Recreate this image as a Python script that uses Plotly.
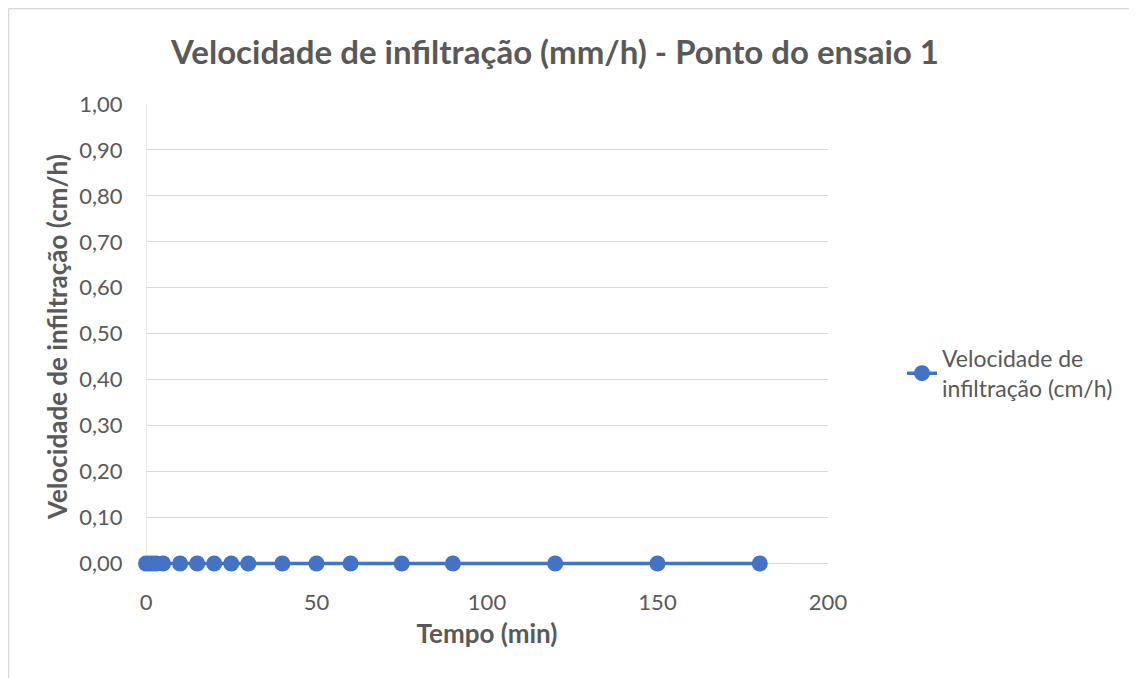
import plotly.graph_objects as go

tempo_min = [0, 1, 2, 3, 5, 10, 15, 20, 25, 30, 40, 50, 60, 75, 90, 120, 150, 180]
velocidade_cm_h = [0.0] * 18
series_name = "Velocidade de<br>infiltração (cm/h)"
title_text = "Velocidade de infiltração (mm/h) - Ponto do ensaio 1"
x_title = "Tempo (min)"
y_title = "Velocidade de infiltração (cm/h)"

FONT = "Lato, 'Open Sans', sans-serif"
GRAY = "#595959"
BLUE = "#4472C4"
CLEAR = "rgba(0,0,0,0)"

W, H = 1129, 670
L, T = 138, 96
PW = 682
UNIT = 459          # pixels for y from 0 to 1
YMIN = -0.012       # small pad below zero so the line is not half-clipped
PH = UNIT * (1 - YMIN)

fig = go.Figure()
fig.add_trace(go.Scatter(
    x=tempo_min, y=velocidade_cm_h, mode="lines+markers", name=series_name,
    line=dict(color=BLUE, width=3.5), marker=dict(color=BLUE, size=16),
    cliponaxis=False,
))

fig.update_layout(
    width=W, height=H,
    margin=dict(l=L, r=W - L - PW, t=T, b=H - T - PH, autoexpand=False),
    paper_bgcolor="white", plot_bgcolor="white",
    separators=",.",
    font=dict(family=FONT, color=GRAY, size=22),
    title=dict(text="<b>" + title_text + "</b>", x=547 / W, xanchor="center",
               y=1 - 44 / H, yanchor="middle", font=dict(size=33, color=GRAY)),
    xaxis=dict(range=[0, 200], dtick=50, showgrid=False, zeroline=False,
               showline=False, ticks="outside", ticklen=14, tickcolor=CLEAR,
               title=dict(text="<b>" + x_title + "</b>", font=dict(size=26), standoff=10),
               tickfont=dict(size=22)),
    yaxis=dict(range=[YMIN, 1], tick0=0, dtick=0.1, tickformat=".2f", showgrid=True,
               gridcolor="#D9D9D9", gridwidth=1, zeroline=False,
               title=dict(text="<b>" + y_title + "</b>", font=dict(size=26), standoff=4),
               tickfont=dict(size=22), ticks="", ticklen=0),
    showlegend=True,
    legend=dict(x=(902 - 8 - L) / PW, xanchor="left", y=(T + PH - (373 - 8)) / PH,
                yanchor="middle", font=dict(size=23, color=GRAY), bgcolor=CLEAR),
)

# vertical axis line at x=0
fig.add_shape(type="line", xref="x", yref="y", x0=0, x1=0, y0=0, y1=1,
              line=dict(color="#D9D9D9", width=1), layer="below")
# y tick label offset: invisible spacer via ticksuffix-free padding
fig.update_yaxes(ticks="outside", ticklen=18, tickcolor=CLEAR)

# chart border (left and top edges visible)
bx = (0.5 - L) / PW
by = (T + PH - 0.5) / PH
fig.add_shape(type="line", xref="paper", yref="paper", x0=bx, x1=bx,
              y0=by, y1=-0.5, line=dict(color="#D9D9D9", width=1.5))
fig.add_shape(type="line", xref="paper", yref="paper", x0=bx, x1=1.6,
              y0=by, y1=by, line=dict(color="#D9D9D9", width=1.5))

fig.write_html("out.html")
